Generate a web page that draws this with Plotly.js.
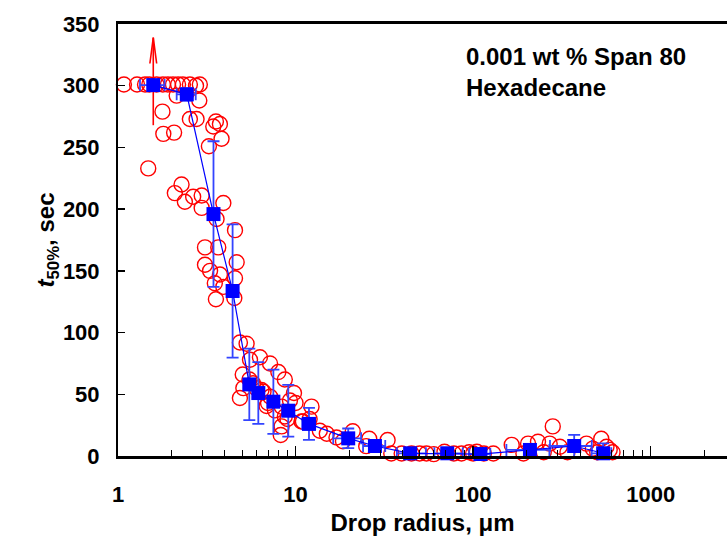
<!DOCTYPE html>
<html>
<head>
<meta charset="utf-8">
<script src="https://cdn.plot.ly/plotly-3.0.1.min.js"></script>
<style>html,body{margin:0;padding:0;background:#fff;}#chart{width:727px;height:548px;}</style>
</head>
<body>
<div id="chart"></div>
<script>
// Individual drop measurements (red open circles)
const dropRadius = [
  1.08, 1.28, 1.42, 1.50, 1.65, 1.79, 1.91, 2.04, 2.18, 2.32, 2.54, 2.75, 2.89,
  2.14, 2.87, 1.78, 2.54, 2.77, 1.80, 2.07, 3.56, 3.75, 3.44, 3.83, 3.25, 1.48,
  2.28, 2.09, 2.38, 2.65, 2.96, 2.96, 3.92,
  3.59, 4.56, 3.09, 3.67, 4.66, 3.09, 3.30, 3.75, 4.56, 3.51, 3.92, 3.56, 4.52,
  4.86, 5.30, 5.54, 6.30, 7.18, 8.00, 8.70, 5.04, 5.08, 5.76, 4.86, 7.00, 7.65,
  9.80, 10.0, 12.3, 8.70, 8.35, 8.25, 13.7, 15.0, 6.43, 6.87, 8.35, 9.30, 10.8,
  5.50, 6.00, 6.60, 7.20, 9.00, 11.0, 12.0,
  17.0, 18.5, 21.0, 26.0, 25.0, 33.0, 34.6, 39.6, 45.0, 50.0, 54.6, 60.0, 69.0,
  78.0, 86.0, 95.0, 100, 105, 115, 130, 165, 192, 204, 232, 250, 270, 281, 308,
  340, 435, 472, 500, 527, 564, 588, 610
];
const dropTime = [
  301, 301, 301, 301, 301, 301, 301, 301, 301, 301, 301, 300, 301,
  292, 288, 279, 273, 273, 261, 262, 271, 269, 267, 257, 251, 233,
  220, 213, 206, 210, 211, 201, 205,
  192, 183, 169, 169, 157, 155, 150, 147, 144, 140, 137, 127, 128,
  92, 91, 78, 80, 75, 68, 62, 66, 55, 59, 47, 43, 37,
  51, 43, 40, 32, 24, 17, 20.5, 18, 53.5, 40.5, 40, 45, 28,
  62, 55, 52, 48, 30, 28, 30,
  15, 12, 20, 14, 8, 13, 2, 2, 2, 2, 2, 1.5, 3.5,
  2, 2, 3, 2, 3.5, 2, 2, 9, 2, 10, 11.6, 3, 10, 24, 7.5,
  3, 10, 6, 3, 14, 7.5, 5, 3
];

// Binned averages (blue squares) with error bars
const binRadius = [1.58, 2.44, 3.45, 4.42, 5.49, 6.17, 7.5, 9.1, 11.9, 19.8, 28, 44.2, 71.5, 110, 209, 371, 540];
const binTime   = [300.5, 293, 196, 133.7, 58, 51, 44, 36.7, 26, 14.3, 8.1, 2.2, 2.2, 1.6, 4.9, 8.1, 2.2];
const binTimeErr = [0, 5, 59, 54, 29, 25, 26, 21, 13, 8, 5, 2, 2, 2, 3, 9, 8];
const binRadiusErrPlus  = [0.25, 0.3, 0.1, 0.1, 0.1, 0.1, 0.2, 0.3, 1.0, 3.6, 4, 10, 16, 15, 60, 95, 60];
const binRadiusErrMinus = [0.25, 0.3, 0.1, 0.1, 0.1, 0.1, 0.2, 0.3, 1.0, 3.5, 4, 7, 11, 15, 55, 100, 75];

const xTickVals = [1, 10, 100, 1000];
const xTickText = ["1", "10", "100", "1000"];
const xMinorVals = [2, 3, 4, 5, 6, 7, 8, 9, 20, 30, 40, 50, 60, 70, 80, 90, 200, 300, 400, 500, 600, 700, 800, 900, 2000];
const yTickVals = [0, 50, 100, 150, 200, 250, 300, 350];

// Red arrow (measurement beyond 300 s): position, shaft start, tip, head length
const arrowX = 1.58, arrowFrom = 268, arrowTo = 339, arrowHeadLen = 21, arrowHeadSpread = 1.045;

const FONT = "Liberation Sans, Arial, sans-serif";

const traces = [
  {
    type: "scatter", mode: "markers", x: dropRadius, y: dropTime,
    marker: {symbol: "circle-open", size: 15, color: "#ff0000", line: {width: 1.4, color: "#ff0000"}},
    hoverinfo: "x+y", showlegend: false, cliponaxis: false
  },
  {
    type: "scatter", mode: "lines",
    x: [arrowX, arrowX, null, arrowX / arrowHeadSpread, arrowX, arrowX * arrowHeadSpread],
    y: [arrowFrom, arrowTo, null, arrowTo - arrowHeadLen, arrowTo, arrowTo - arrowHeadLen],
    line: {color: "#ff0000", width: 1.6},
    showlegend: false, hoverinfo: "skip", cliponaxis: false
  },
  {
    type: "scatter", mode: "lines+markers", x: binRadius, y: binTime,
    line: {color: "#0000ff", width: 1.2},
    marker: {symbol: "square", size: 14, color: "#0000ff"},
    error_y: {type: "data", array: binTimeErr, color: "#3344ff", thickness: 1.8, width: 6},
    error_x: {type: "data", symmetric: false, array: binRadiusErrPlus, arrayminus: binRadiusErrMinus, color: "#3344ff", thickness: 1.8, width: 6},
    showlegend: false, cliponaxis: false
  }
];

const layout = {
  width: 727, height: 548,
  margin: {l: 118, r: 0, t: 24, b: 92},
  paper_bgcolor: "#ffffff", plot_bgcolor: "#ffffff",
  font: {family: FONT, color: "#000", size: 22, weight: "bold"},
  showlegend: false,
  xaxis: {
    type: "log", range: [0, 3.43],
    tickvals: xTickVals, ticktext: xTickText,
    ticks: "inside", ticklen: 10, tickwidth: 1.3, tickcolor: "#000",
    minor: {ticks: "inside", ticklen: 6, tickwidth: 1, tickcolor: "#000", tickvals: xMinorVals},
    showline: true, linecolor: "#000", linewidth: 2.8, mirror: true,
    showgrid: false, zeroline: false,
    tickfont: {family: FONT, size: 22, weight: "bold"},
    ticklabelstandoff: 17,
    title: {text: "Drop radius, μm", font: {family: FONT, size: 24, weight: "bold"}, standoff: 8}
  },
  yaxis: {
    range: [0, 350], tickvals: yTickVals,
    ticks: "inside", ticklen: 7, tickwidth: 1.3, tickcolor: "#000",
    showline: true, linecolor: "#000", linewidth: 2,
    showgrid: false, zeroline: false,
    tickfont: {family: FONT, size: 22, weight: "bold"},
    ticklabelstandoff: 12,
    title: {text: "<i>t</i><sub>50%</sub>, sec", font: {family: FONT, size: 24, weight: "bold"}, standoff: 0}
  },
  annotations: [
    {
      xref: "paper", yref: "paper", x: 0.568, y: 0.924, xanchor: "left", yanchor: "middle",
      text: "0.001 wt % Span 80", showarrow: false, align: "left",
      font: {family: FONT, size: 24, weight: "bold", color: "#000"}
    },
    {
      xref: "paper", yref: "paper", x: 0.568, y: 0.852, xanchor: "left", yanchor: "middle",
      text: "Hexadecane", showarrow: false, align: "left",
      font: {family: FONT, size: 24, weight: "bold", color: "#000"}
    }
  ]
};

Plotly.newPlot("chart", traces, layout, {displayModeBar: false, staticPlot: true});
</script>
</body>
</html>
